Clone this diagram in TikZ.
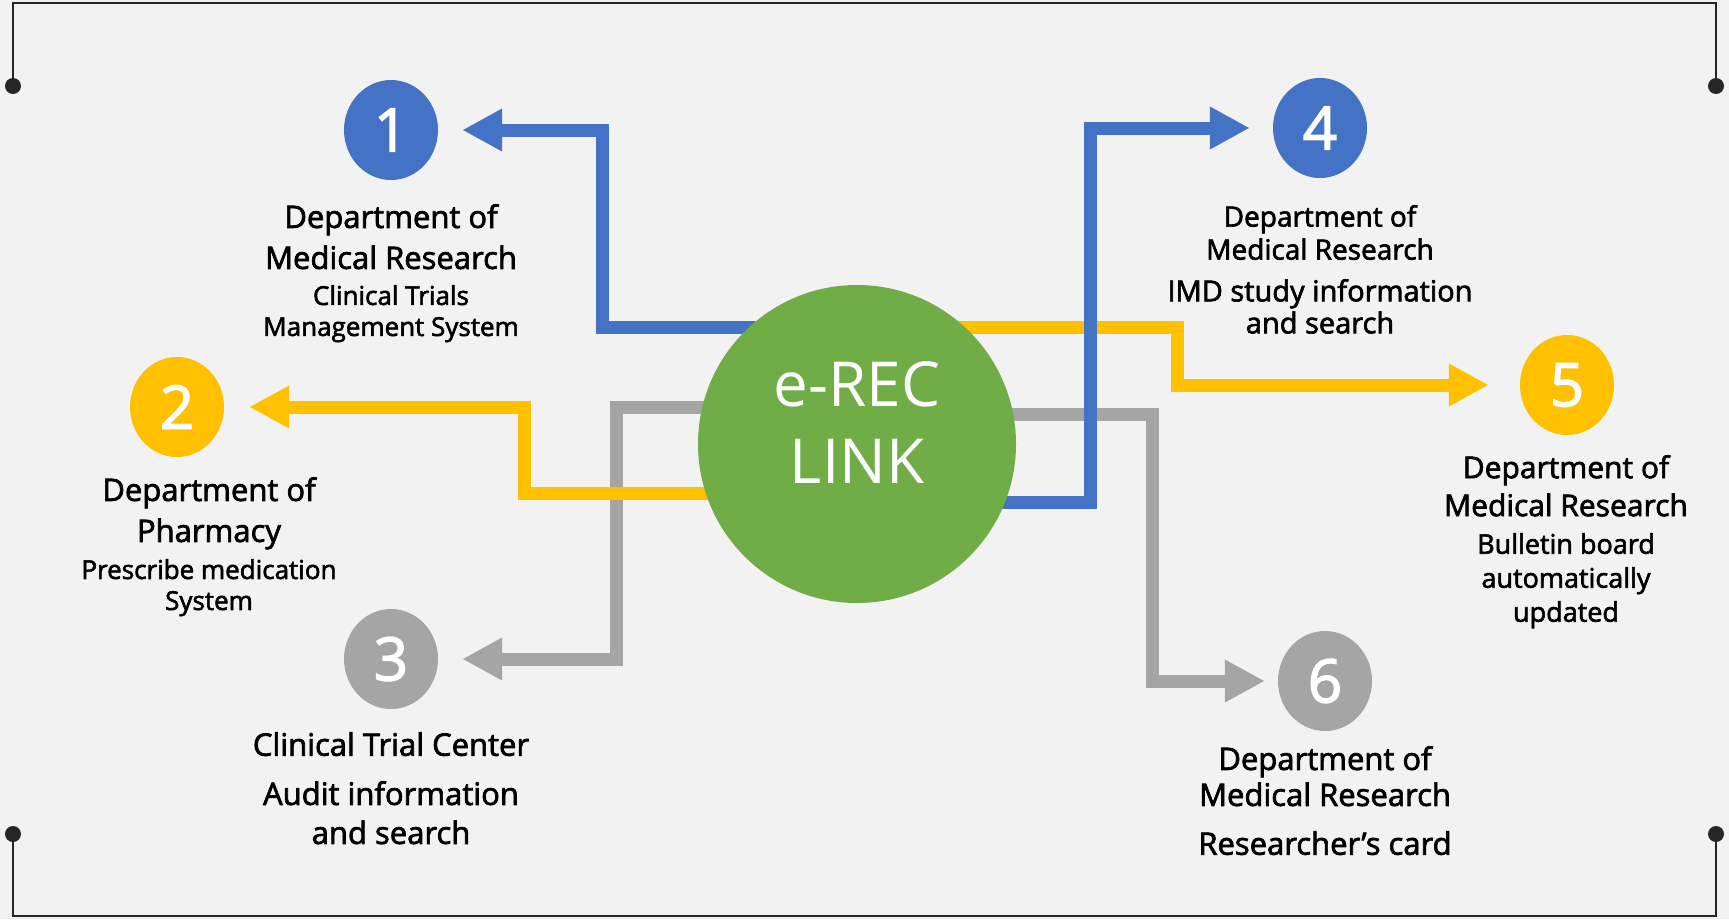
\documentclass[tikz,border=0pt]{standalone}
\usepackage{fontspec}
\setmainfont{Open Sans}
\newfontfamily\semifont{Open Sans}[RawFeature={embolden=2.2}]
\usetikzlibrary{arrows.meta,shapes.geometric,backgrounds}
\definecolor{cblue}{HTML}{4472C4}
\definecolor{cyellow}{HTML}{FFC000}
\definecolor{cgray}{HTML}{A5A5A5}
\definecolor{cgreen}{HTML}{70AD47}
\definecolor{bgcol}{HTML}{F2F2F2}
\definecolor{framecol}{HTML}{262626}
\tikzset{
  numdot/.style={ellipse,minimum width=94pt,minimum height=100pt,inner sep=0pt,text=white,font=\semifont\fontsize{60}{60}\selectfont},
  flow/.style={line width=13pt,line join=miter,-{Triangle[length=40pt,width=40pt]}},
  head/.style={align=center,anchor=north,inner sep=0pt,font=\semifont\fontsize{31}{41}\selectfont},
  sub/.style={align=center,anchor=north,inner sep=0pt,font=\semifont\fontsize{26}{31}\selectfont},
  frame/.style={line width=2.5pt,framecol}
}
\begin{document}
\begin{tikzpicture}[x=1pt,y=-1pt]
  \useasboundingbox (0,0) rectangle (1729,919);
  % hub and numbered targets
  \node[circle,fill=cgreen,minimum size=318pt,inner sep=0pt,text=white,align=center,text depth=42pt,font=\fontsize{62}{77}\selectfont] (hub) at (857,444) {e-REC\\LINK};
  \node[numdot,fill=cblue] (n1) at (391,130) {1};
  \node[numdot,fill=cyellow] (n2) at (177,407) {2};
  \node[numdot,fill=cgray] (n3) at (391,659) {3};
  \node[numdot,fill=cblue] (n4) at (1320,128) {4};
  \node[numdot,fill=cyellow] (n5) at (1567,385) {5};
  \node[numdot,fill=cgray] (n6) at (1325,681) {6};
  % connectors under the hub
  \begin{scope}[on background layer]
    \fill[bgcol] (0,0) rectangle (1729,919);
    \draw[flow,cgray,shorten >=24pt] (hub.center |- 0,407) -- (616,407) |- (n3.east);
    \draw[flow,cgray,shorten >=13pt] (hub.center |- 0,414) -- (1152,414) |- (n6.west);
    \draw[flow,cyellow,shorten >=25pt] (hub.center |- 0,493) -- (524,493) |- (n2.east);
    \draw[flow,cyellow,shorten >=31pt] (hub.center |- 0,327) -- (1177,327) |- (n5.west);
    \draw[flow,cblue,shorten >=24pt] (hub.center |- 0,327) -- (602,327) |- (n1.east);
    \draw[flow,cblue,shorten >=23pt] (hub.center |- 0,502) -- (1090,502) |- (n4.west);
  \end{scope}
  % labels
  \node[head] (h1) at (391,204) {Department of\\Medical Research};
  \node[sub] (s1) at (391,285) {Clinical Trials\\Management System};
  \node[head] (h2) at (209,477) {Department of\\Pharmacy};
  \node[sub] (s2) at (209,559) {Prescribe medication\\System};
  \node[head] (h3) at (391,732) {Clinical Trial Center};
  \node[head,font=\semifont\fontsize{31}{39}\selectfont] (s3) at (391,781) {Audit information\\and search};
  \node[head,font=\semifont\fontsize{28}{33}\selectfont] (h4) at (1320,205) {Department of\\Medical Research};
  \node[head,font=\semifont\fontsize{29}{32}\selectfont] (s4) at (1320,279) {IMD study information\\and search};
  \node[head,font=\semifont\fontsize{30}{38}\selectfont] (h5) at (1566,455) {Department of\\Medical Research};
  \node[sub,font=\semifont\fontsize{27}{34}\selectfont] (s5) at (1566,533) {Bulletin board\\automatically\\updated};
  \node[head,font=\semifont\fontsize{31}{36}\selectfont] (h6) at (1325,746) {Department of\\Medical Research};
  \node[head] (s6) at (1325,831) {Researcher’s card};
  % frame corners
  \draw[frame] (13,86) -- (13,3) -- (1716,3) -- (1716,86);
  \draw[frame] (13,834) -- (13,916) -- (1716,916) -- (1716,834);
  \foreach \x/\y in {13/86,1716/86,13/834,1716/834}
    \fill[framecol] (\x,\y) circle (8pt);
\end{tikzpicture}
\end{document}
